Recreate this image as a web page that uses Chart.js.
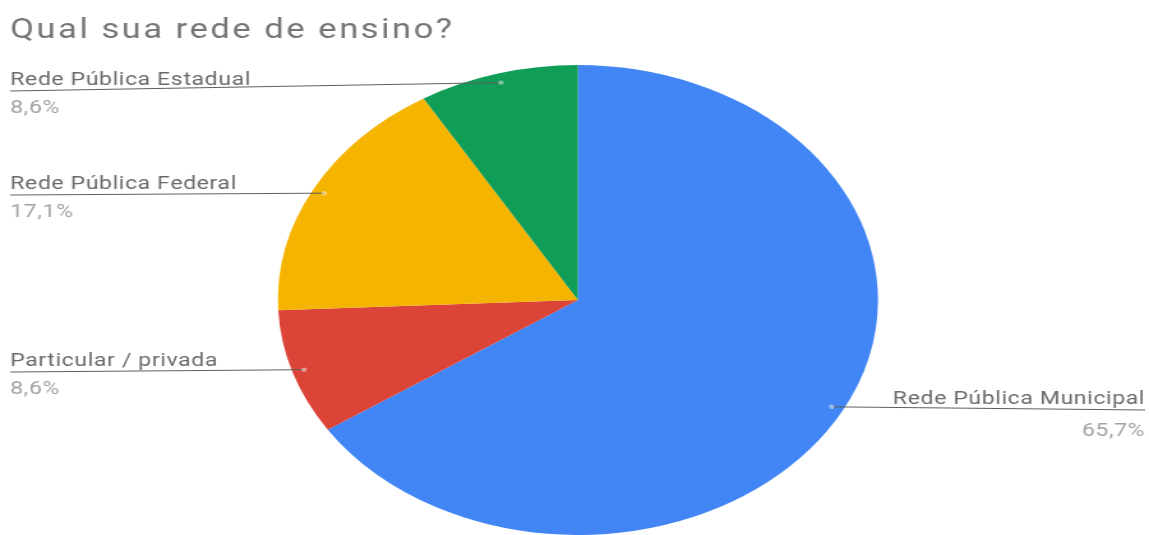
<!DOCTYPE html>
<html>
<head>
<meta charset="utf-8">
<script src="https://cdn.jsdelivr.net/npm/chart.js@4/dist/chart.umd.min.js"></script>
<style>
  html, body { margin: 0; padding: 0; background: #fff; overflow: hidden; }
  #wrap { width: 900px; height: 535px; transform: scaleX(1.27667); transform-origin: 0 0; }
  canvas { display: block; }
</style>
</head>
<body>
<div id="wrap"><canvas id="c" width="900" height="535" style="width:900px;height:535px"></canvas></div>
<script>
const title = 'Qual sua rede de ensino?';
const categories = ['Rede Pública Municipal', 'Particular / privada', 'Rede Pública Federal', 'Rede Pública Estadual'];
const values = [65.7, 8.6, 17.1, 8.6];
const valueLabels = ['65,7%', '8,6%', '17,1%', '8,6%'];
const colors = ['#4285F4', '#DB4437', '#F4B400', '#0F9D58'];

// callout placement: side, y of the underline, and offset of the value line below it
const calloutSide = ['right', 'left', 'left', 'left'];
const calloutY = [410, 372, 195, 91];
const valueOffset = [26, 22, 22, 22];

const FONT = 'Roboto, "Noto Sans", sans-serif';

const calloutPlugin = {
  id: 'callouts',
  afterDatasetsDraw(chart) {
    const ctx = chart.ctx;
    const meta = chart.getDatasetMeta(0);
    const W = chart.width;
    ctx.save();
    // title
    ctx.fillStyle = '#757575';
    ctx.font = '27px ' + FONT;
    ctx.letterSpacing = '2px';
    ctx.textBaseline = 'alphabetic';
    ctx.textAlign = 'left';
    ctx.fillText(title, 8, 38);

    ctx.letterSpacing = '0.5px';
    meta.data.forEach((arc, i) => {
      const p = arc.getProps(['x', 'y', 'startAngle', 'endAngle', 'outerRadius'], true);
      const mid = (p.startAngle + p.endAngle) / 2;
      const r = p.outerRadius * 0.96;
      const dx = p.x + Math.cos(mid) * r;
      const dy = p.y + Math.sin(mid) * r;
      const ly = calloutY[i];
      const right = calloutSide[i] === 'right';
      const ex = right ? W - 3 : 8;

      ctx.strokeStyle = '#5f5f5f';
      ctx.lineWidth = 1;
      ctx.beginPath();
      ctx.moveTo(dx, dy);
      ctx.lineTo(ex, ly);
      ctx.stroke();

      ctx.fillStyle = 'rgba(255,255,255,0.45)';
      ctx.beginPath();
      ctx.arc(dx, dy, 2.2, 0, Math.PI * 2);
      ctx.fill();

      ctx.textAlign = right ? 'right' : 'left';
      ctx.font = '18px ' + FONT;
      ctx.fillStyle = '#6a6a6a';
      ctx.fillText(categories[i], ex, ly - 6);
      ctx.fillStyle = '#a2a2a2';
      ctx.fillText(valueLabels[i], ex, ly + valueOffset[i]);
    });
    ctx.restore();
  }
};

new Chart(document.getElementById('c'), {
  type: 'pie',
  data: {
    labels: categories,
    datasets: [{
      data: values,
      backgroundColor: colors,
      borderWidth: 0
    }]
  },
  options: {
    responsive: false,
    animation: false,
    rotation: 0,
    layout: { padding: { left: 217.7, right: 212.3, top: 65, bottom: 0 } },
    plugins: {
      legend: { display: false },
      tooltip: { enabled: false },
      title: { display: false }
    }
  },
  plugins: [calloutPlugin]
});
</script>
</body>
</html>
